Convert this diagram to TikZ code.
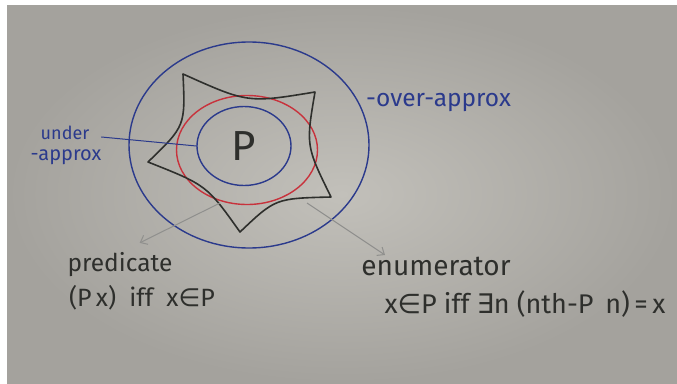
\documentclass[tikz,border=0pt]{standalone}
\usepackage{fontspec}
\setmainfont{Fira Sans}
\newfontfamily\symfont{DejaVu Sans}
\usepackage{tikz}
\usetikzlibrary{arrows.meta,calc,shapes.geometric}
\definecolor{paper}{HTML}{C2C0BA}
\definecolor{paperdark}{HTML}{A4A29D}
\definecolor{inkblue}{HTML}{2B3A8C}
\definecolor{inkred}{HTML}{C8323C}
\definecolor{inkblack}{HTML}{2E2F2C}
\definecolor{pencil}{HTML}{8F8F8D}

\begin{document}
\begin{tikzpicture}[x=1pt,y=-1pt,
  pen/.style={line width=1.4pt,line cap=round,line join=round},
  loop/.style={pen,ellipse,draw,inner sep=0pt},
  hand/.style={font=\fontsize{#1}{#1}\selectfont,inner sep=0pt},
  hand/.default=20,
  pencilarrow/.style={pencil,line width=1pt,-{Straight Barb[length=6pt,width=10pt]}}]
  % photo frame and paper
  \fill[white] (0,0) rectangle (677,383);
  \shade[inner color=paper,outer color=paperdark] (7,5) rectangle (677,383);
  % the three loops
  \node[loop,inkblue,minimum width=240,minimum height=206] (over) at (249,145) {};
  \node[loop,inkred,minimum width=141,minimum height=109] (red) at (247,150) {};
  \node[loop,inkblue,text=inkblack,minimum width=94,minimum height=79,font=\fontsize{42}{42}\selectfont] (inner) at (244,146) {P};
  % concave star
  \coordinate (O) at (245,150);
  \coordinate (s1) at (183,74);
  \coordinate (s2) at (315,92);
  \coordinate (s3) at (331,197);
  \coordinate (s4) at (240,232);
  \coordinate (s5) at (148,162);
  \draw[pen,inkblack,line width=1.6pt]
    (s1) .. controls ($(s1)!.5!(s2)!.3!(O)$) .. (s2)
         .. controls ($(s2)!.5!(s3)!.22!(O)$) .. (s3)
         .. controls ($(s3)!.5!(s4)!.25!(O)$) .. (s4)
         .. controls ($(s4)!.5!(s5)!.25!(O)$) .. (s5)
         .. controls ($(s5)!.5!(s1)!.25!(O)$) .. (s1);
  % labels
  \node[hand=18,inkblue] (underA) at (65,133) {under};
  \node[hand=20,inkblue] (underB) at (66,157) {-approx};
  \draw[pen,inkblue,line width=1pt] ([xshift=12pt,yshift=-4pt]underA.east) -- (inner.west);
  \node[hand=24.5,inkblue,anchor=west] (overlbl) at (366,103) {-over-approx};
  \node[hand=24.5,inkblack] (pred) at (120,265) {predicate};
  \node[hand=25,inkblack] (predf) at (142,298) {(P\,x)\ \ iff\ \ x{\symfont∈}P};
  \node[hand=28,inkblack] (enum) at (436,266) {enumerator};
  \node[hand=27,inkblack] (enumf) at (525,304) {x{\symfont∈}P\ iff\ {\symfont∃}n (nth-P\ \,n)\,=\,x};
  % pencil arrows
  \coordinate (p1) at (220,203);
  \coordinate (p2) at (307,203);
  \coordinate (t2) at (385,255);
  \draw[pencilarrow,shorten >=22pt] (p1) -- (pred.north);
  \draw[pencilarrow] (p2) -- (t2);
\end{tikzpicture}
\end{document}
